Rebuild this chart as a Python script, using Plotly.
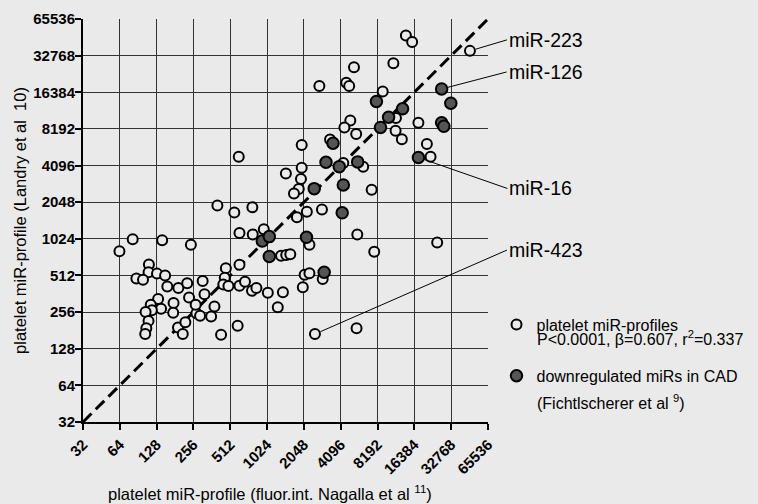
import numpy as np
import plotly.graph_objects as go

# log2 intensities
open_x_log2 = [12.36, 11.42, 12.15, 12.23, 12.26, 12.10, 12.42, 11.71, 10.94, 9.23,
               10.94, 10.51, 10.92, 10.86, 10.73, 12.61, 12.84, 12.07, 8.65, 9.11,
               9.60, 9.25, 9.61, 9.91, 10.81, 11.08, 11.49, 12.45, 11.15, 6.35,
               7.15, 7.93, 5.99, 12.91, 13.77, 13.94, 15.51, 13.43, 13.14, 13.50,
               13.49, 13.66, 14.11, 14.34, 14.44, 14.62, 8.88, 9.25, 6.79, 8.25,
               8.85, 8.81, 8.95, 9.25, 9.40, 9.59, 9.71, 10.02, 10.43, 10.97,
               11.02, 11.15, 11.51, 10.29, 9.20, 8.75, 11.30, 12.43, 10.38, 10.52,
               10.63, 6.78, 7.01, 7.23, 6.45, 6.63, 7.29, 7.59, 7.83, 7.88,
               7.04, 6.84, 7.12, 7.46, 7.45, 6.87, 6.70, 6.78, 6.72, 6.69,
               7.58, 7.71, 7.78, 8.08, 8.18, 8.48, 8.57, 8.06, 8.30]
open_y_log2 = [14.68, 14.17, 14.26, 14.17, 13.23, 13.04, 12.86, 12.71, 12.56, 12.24,
               11.94, 11.78, 11.63, 11.36, 11.24, 11.97, 11.34, 12.07, 10.91, 10.72,
               10.86, 10.16, 10.12, 10.26, 10.59, 10.74, 10.80, 10.12, 9.84, 9.99,
               9.96, 9.84, 9.66, 9.65, 15.55, 15.37, 15.13, 14.79, 14.02, 13.30,
               12.95, 12.72, 13.17, 12.59, 12.24, 9.90, 9.20, 9.29, 9.30, 8.85,
               8.94, 8.75, 8.71, 8.72, 8.83, 8.58, 8.66, 8.53, 8.54, 8.68,
               9.02, 9.06, 8.90, 8.13, 7.63, 7.38, 7.40, 7.56, 9.54, 9.56,
               9.58, 9.09, 9.05, 9.00, 8.92, 8.88, 8.70, 8.66, 8.79, 8.40,
               8.36, 8.20, 8.09, 8.25, 7.98, 8.05, 8.00, 7.76, 7.56, 7.40,
               7.58, 7.40, 7.72, 7.97, 7.90, 7.88, 8.15, 8.20, 8.49]

cad_x_log2 = [12.97, 13.08, 11.79, 11.60, 12.46, 11.96, 12.07, 11.28, 12.04, 9.87,
              10.06, 11.07, 10.06, 11.55, 14.74, 14.99, 13.68, 13.30, 14.74, 14.80, 14.11]
cad_y_log2 = [13.75, 13.04, 12.61, 12.09, 12.10, 11.97, 11.47, 11.37, 10.71, 9.94,
              10.06, 10.04, 9.52, 9.09, 14.09, 13.70, 13.55, 13.32, 13.17, 13.07, 12.22]

label_names = ["miR-223", "miR-126", "miR-16", "miR-423"]
label_x_log2 = [15.51, 14.74, 14.11, 11.30]
label_y_log2 = [15.13, 14.09, 12.22, 7.40]
label_dx = [37, 65, 89, 192]      # text offset (px)
label_dy = [-11, -17, 31, -84]

tick_vals = [32, 64, 128, 256, 512, 1024, 2048, 4096, 8192, 16384, 32768, 65536]
tick_text = [str(v) for v in tick_vals]
diag = [32, 65536]

BG = "#eaeaea"
FONT = "Arial, Liberation Sans, sans-serif"

ox = 2.0 ** np.array(open_x_log2)
oy = 2.0 ** np.array(open_y_log2)
cx = 2.0 ** np.array(cad_x_log2)
cy = 2.0 ** np.array(cad_y_log2)

fig = go.Figure()
fig.add_trace(go.Scatter(x=diag, y=diag, mode="lines", showlegend=False,
                         line=dict(color="black", width=3, dash="12px,6px"), hoverinfo="skip"))
fig.add_trace(go.Scatter(x=ox, y=oy, mode="markers", name="platelet miR-profiles",
                         legendgroup="a",
                         marker=dict(size=10, color=BG, line=dict(color="black", width=2))))
fig.add_trace(go.Scatter(x=cx, y=cy, mode="markers", name="downregulated miRs in CAD",
                         legendgroup="b",
                         marker=dict(size=11.5, color="#555555", line=dict(color="black", width=2))))

annotations = []
for name, lx, ly, dx, dy in zip(label_names, label_x_log2, label_y_log2, label_dx, label_dy):
    annotations.append(dict(
        x=np.log10(2.0 ** lx), y=np.log10(2.0 ** ly), xref="x", yref="y",
        text=name, showarrow=True, arrowhead=0, arrowwidth=1, arrowcolor="black",
        ax=dx, ay=dy, xanchor="left", yanchor="middle", standoff=6,
        font=dict(family=FONT, size=19.5, color="black")))

annotations.append(dict(x=1.117, y=0.208, xref="paper", yref="paper", xanchor="left",
                        yanchor="middle", showarrow=False,
                        text="P<0.0001, β=0.607, r<sup>2</sup>=0.337",
                        font=dict(family=FONT, size=16, color="black")))
annotations.append(dict(x=1.117, y=0.0504, xref="paper", yref="paper", xanchor="left",
                        yanchor="middle", showarrow=False,
                        text="(Fichtlscherer et al <sup>9</sup>)",
                        font=dict(family=FONT, size=16, color="black")))
# x-axis title
annotations.append(dict(x=0.4617, y=-0.176, xref="paper", yref="paper", xanchor="center",
                        yanchor="middle", showarrow=False,
                        text="platelet miR-profile (fluor.int. Nagalla et al <sup>11</sup>)",
                        font=dict(family=FONT, size=16.5, color="black")))

axis_common = dict(type="log", tickvals=tick_vals, ticktext=tick_text,
                   showgrid=True, gridcolor="#333333", gridwidth=1.3,
                   showline=True, linecolor="black", linewidth=2,
                   ticks="outside", ticklen=6, tickwidth=2, tickcolor="black",
                   tickfont=dict(family=FONT, size=15, color="black", weight="bold"),
                   zeroline=False, automargin=False,
                   range=[np.log10(32), np.log10(65536)])

fig.update_layout(
    width=758, height=504,
    margin=dict(l=83, r=270, t=19, b=82),
    paper_bgcolor=BG, plot_bgcolor=BG,
    xaxis=dict(**axis_common, tickangle=-45),
    yaxis=dict(**axis_common, ticklabelstandoff=-3,
               title=dict(text="platelet miR-profile (Landry et al  10)",
                          font=dict(family=FONT, size=16.5, color="black"), standoff=3)),
    legend=dict(x=1.021, y=0.284, xanchor="left", yanchor="top",
                font=dict(family=FONT, size=16, color="black"),
                bgcolor="rgba(0,0,0,0)", tracegroupgap=27.5, valign="middle"),
    annotations=annotations,
    showlegend=True,
)

fig.write_html("out.html", config={"displayModeBar": False},
               post_script="document.body.style.margin='0';document.body.style.padding='0';"
                           "document.body.style.background='" + BG + "';")
